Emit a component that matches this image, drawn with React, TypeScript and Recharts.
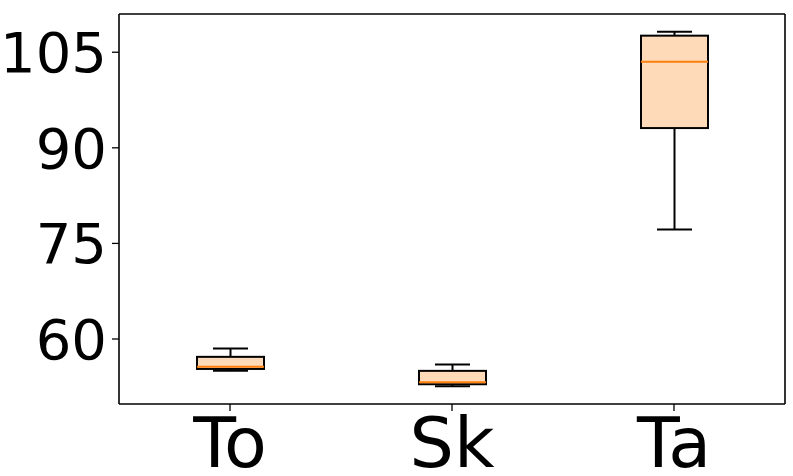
import React from "react";
import { ComposedChart, Bar, XAxis, YAxis } from "recharts";

const categories = ["To", "Sk", "Ta"];
const mins = [55.0, 52.6, 77.2];
const q1s = [55.3, 52.9, 93.1];
const medians = [55.65, 53.2, 103.5];
const q3s = [57.2, 55.0, 107.6];
const maxs = [58.5, 56.0, 108.2];
const yTicks = [60, 75, 90, 105];

const data = categories.map((c, i) => ({
  name: c,
  range: [mins[i], maxs[i]],
  min: mins[i],
  q1: q1s[i],
  median: medians[i],
  q3: q3s[i],
  max: maxs[i],
}));

const BoxShape = (props: any) => {
  const { x, y, width, height, payload } = props;
  const { min, q1, median, q3, max } = payload;
  const py = (v: number) => y + (height * (max - v)) / (max - min);
  const cx = x + width / 2;
  const capW = 35;
  return (
    <g>
      <line x1={cx} x2={cx} y1={py(max)} y2={py(q3)} stroke="#000" strokeWidth={2} />
      <line x1={cx} x2={cx} y1={py(q1)} y2={py(min)} stroke="#000" strokeWidth={2} />
      <line x1={cx - capW / 2} x2={cx + capW / 2} y1={py(max)} y2={py(max)} stroke="#000" strokeWidth={2} />
      <line x1={cx - capW / 2} x2={cx + capW / 2} y1={py(min)} y2={py(min)} stroke="#000" strokeWidth={2} />
      <rect x={x} y={py(q3)} width={width} height={py(q1) - py(q3)} fill="#FFDAB9" stroke="#000" strokeWidth={2} />
      <line x1={x} x2={x + width} y1={py(median)} y2={py(median)} stroke="#FF7F0E" strokeWidth={2} />
    </g>
  );
};

const XTick = (props: any) => {
  const { x, y, payload } = props;
  return (
    <text x={x} y={y} dy={56} textAnchor="middle" fontSize={70} fontFamily="DejaVu Sans" fill="#000">
      {payload.value}
    </text>
  );
};

const YTick = (props: any) => {
  const { x, y, payload } = props;
  return (
    <text x={x} y={y} dy={20} textAnchor="end" fontSize={56} fontFamily="DejaVu Sans" fill="#000">
      {payload.value}
    </text>
  );
};

export default function App() {
  return (
    <div style={{ position: "absolute", left: 0, top: 0, background: "#fff" }}>
      <ComposedChart
        width={793}
        height={476}
        data={data}
        margin={{ top: 13, right: 7, bottom: 0, left: 0 }}
      >
        <XAxis
          dataKey="name"
          xAxisId="bottom"
          height={72}
          tickSize={7}
          tickMargin={0}
          tick={<XTick />}
          axisLine={{ stroke: "#000", strokeWidth: 1.6 }}
          tickLine={{ stroke: "#000", strokeWidth: 1.3 }}
        />
        <XAxis
          dataKey="name"
          xAxisId="top"
          orientation="top"
          height={1}
          tick={false}
          tickLine={false}
          axisLine={{ stroke: "#000", strokeWidth: 1.6 }}
        />
        <YAxis
          yAxisId="left"
          width={119}
          domain={[49.8, 111.0]}
          ticks={yTicks}
          allowDataOverflow
          tickSize={7}
          tickMargin={5}
          tick={<YTick />}
          axisLine={{ stroke: "#000", strokeWidth: 1.6 }}
          tickLine={{ stroke: "#000", strokeWidth: 1.3 }}
        />
        <YAxis
          yAxisId="right"
          orientation="right"
          width={1}
          domain={[49.8, 111.0]}
          tick={false}
          tickLine={false}
          axisLine={{ stroke: "#000", strokeWidth: 1.6 }}
        />
        <Bar
          dataKey="range"
          xAxisId="bottom"
          yAxisId="left"
          barSize={67}
          shape={<BoxShape />}
          isAnimationActive={false}
        />
      </ComposedChart>
    </div>
  );
}
